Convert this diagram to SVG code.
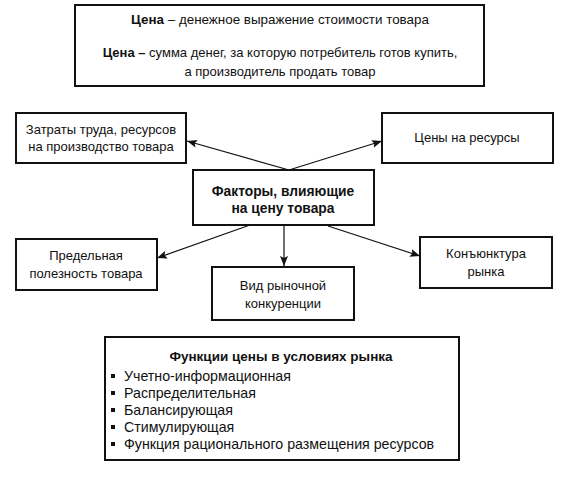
<svg xmlns="http://www.w3.org/2000/svg" width="561" height="481" viewBox="0 0 561 481">
<style>
.box{fill:#fff;stroke:#111;stroke-width:2}
text{font-family:"Liberation Sans",Arial,sans-serif;font-size:13px;fill:#111}
.c{text-anchor:middle}
.b{font-weight:bold}
.f{font-size:13.8px}
.li{font-size:14.2px}
.ln{stroke:#111;stroke-width:1.2;fill:none;marker-end:url(#ah)}
</style>
<defs>
<marker id="ah" viewBox="0 0 10 8" refX="10" refY="4" markerWidth="10" markerHeight="8" markerUnits="userSpaceOnUse" orient="auto">
<path d="M0,0 L10,4 L0,8 L2,4 Z" fill="#111"/>
</marker>
</defs>
<rect width="561" height="481" fill="#fff"/>
<g id="def">
<rect class="box" x="75" y="5" width="409" height="81"/>
<text class="c" x="280" y="24" style="font-size:13.4px"><tspan class="b">Цена</tspan> – денежное выражение стоимости товара</text>
<text class="c" x="280" y="57"><tspan class="b">Цена –</tspan> сумма денег, за которую потребитель готов купить,</text>
<text class="c" x="280" y="76">а производитель продать товар</text>
</g>
<g id="connectors">
<line class="ln" x1="289" y1="170" x2="187" y2="141"/>
<line class="ln" x1="289" y1="170" x2="382" y2="141"/>
<line class="ln" x1="250" y1="225" x2="157" y2="258"/>
<line class="ln" x1="284" y1="225" x2="284" y2="266"/>
<line class="ln" x1="328" y1="226" x2="420" y2="256"/>
</g>
<g id="costs">
<rect class="box" x="16" y="113" width="170" height="50"/>
<text class="c" x="101" y="134">Затраты труда, ресурсов</text>
<text class="c" x="101" y="151">на производство товара</text>
</g>
<g id="prices">
<rect class="box" x="382" y="113" width="171" height="50"/>
<text class="c" x="467" y="142">Цены на ресурсы</text>
</g>
<g id="factors">
<rect class="box" x="193" y="170" width="181" height="55"/>
<text class="c b f" x="283" y="196">Факторы, влияющие</text>
<text class="c b f" x="283" y="213">на цену товара</text>
</g>
<g id="utility">
<rect class="box" x="16" y="239" width="141" height="51"/>
<text class="c" x="86" y="260">Предельная</text>
<text class="c" x="86" y="278">полезность товара</text>
</g>
<g id="competition">
<rect class="box" x="212" y="267" width="142" height="53"/>
<text class="c" x="283" y="290">Вид рыночной</text>
<text class="c" x="283" y="308">конкуренции</text>
</g>
<g id="market">
<rect class="box" x="420" y="237" width="132" height="51"/>
<text class="c" x="486" y="258">Конъюнктура</text>
<text class="c" x="486" y="276">рынка</text>
</g>
<g id="functions">
<rect class="box" x="105" y="337" width="354" height="123"/>
<text class="c b" x="281" y="361" style="font-size:13.5px">Функции цены в условиях рынка</text>
<g>
<rect x="111" y="374" width="4" height="4" fill="#111"/>
<rect x="111" y="391" width="4" height="4" fill="#111"/>
<rect x="111" y="408" width="4" height="4" fill="#111"/>
<rect x="111" y="425" width="4" height="4" fill="#111"/>
<rect x="111" y="442" width="4" height="4" fill="#111"/>
</g>
<text class="li" x="124" y="381">Учетно-информационная</text>
<text class="li" x="124" y="398">Распределительная</text>
<text class="li" x="124" y="415">Балансирующая</text>
<text class="li" x="124" y="432">Стимулирующая</text>
<text class="li" x="124" y="449">Функция рационального размещения ресурсов</text>
</g>
</svg>
